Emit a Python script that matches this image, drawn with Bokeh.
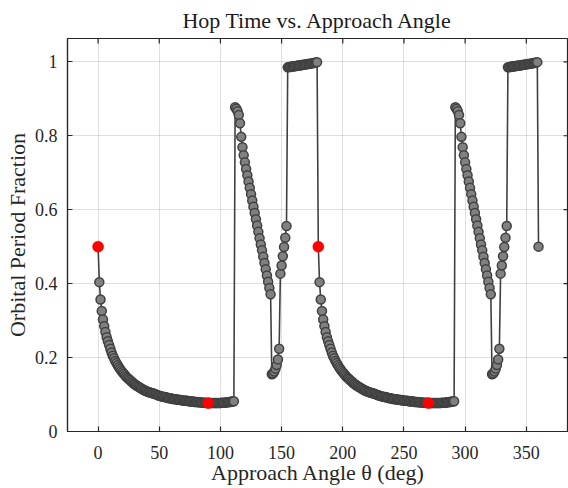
import math
from bokeh.plotting import figure
from bokeh.models import Range1d, FixedTicker, ColumnDataSource
from bokeh.embed import file_html
from bokeh.resources import INLINE

# ---------------- data ----------------
# approach angle grid, 1 degree steps
theta = list(range(0, 361))

# orbital period fraction, theta = 0 .. 179 deg
frac_0_179 = [
    0.500, 0.404, 0.357, 0.326, 0.303, 0.285, 0.269, 0.255, 0.244, 0.234,
    0.224, 0.214, 0.205, 0.198, 0.191, 0.185, 0.179, 0.174, 0.169, 0.164,
    0.160, 0.156, 0.152, 0.148, 0.145, 0.142, 0.139, 0.136, 0.133, 0.130,
    0.128, 0.125, 0.123, 0.121, 0.119, 0.117, 0.115, 0.113, 0.111, 0.110,
    0.108, 0.107, 0.106, 0.105, 0.104, 0.103, 0.102, 0.101, 0.099, 0.098,
    0.097, 0.096, 0.095, 0.094, 0.093, 0.093, 0.092, 0.091, 0.090, 0.090,
    0.089, 0.088, 0.088, 0.087, 0.087, 0.086, 0.086, 0.085, 0.085, 0.084,
    0.084, 0.083, 0.083, 0.083, 0.082, 0.082, 0.081, 0.081, 0.081, 0.080,
    0.080, 0.080, 0.079, 0.079, 0.079, 0.078, 0.078, 0.078, 0.078, 0.077,
    0.077, 0.077, 0.077, 0.077, 0.077, 0.077, 0.077, 0.077, 0.077, 0.077,
    0.077, 0.078, 0.078, 0.078, 0.078, 0.079, 0.079, 0.080, 0.080, 0.081,
    0.081, 0.082, 0.877, 0.873, 0.866, 0.856, 0.834, 0.797, 0.769, 0.747,
    0.728, 0.710, 0.693, 0.676, 0.659, 0.642, 0.625, 0.608, 0.591, 0.574,
    0.557, 0.540, 0.523, 0.506, 0.490, 0.473, 0.456, 0.439, 0.422, 0.405,
    0.388, 0.371, 0.155, 0.157, 0.162, 0.170, 0.180, 0.195, 0.224, 0.427,
    0.449, 0.474, 0.499, 0.524, 0.556, 0.985, 0.986, 0.986, 0.987, 0.987,
    0.988, 0.988, 0.989, 0.989, 0.990, 0.990, 0.991, 0.991, 0.992, 0.993,
    0.993, 0.994, 0.994, 0.995, 0.995, 0.996, 0.997, 0.997, 0.998, 0.999,
]

# orbital period fraction, theta = 180 .. 360 deg
frac_180_360 = [
    0.500, 0.404, 0.357, 0.326, 0.303, 0.285, 0.269, 0.255, 0.244, 0.234,
    0.224, 0.214, 0.205, 0.198, 0.191, 0.185, 0.179, 0.174, 0.169, 0.164,
    0.160, 0.156, 0.152, 0.148, 0.145, 0.142, 0.139, 0.136, 0.133, 0.130,
    0.128, 0.125, 0.123, 0.121, 0.119, 0.117, 0.115, 0.113, 0.111, 0.110,
    0.108, 0.107, 0.106, 0.105, 0.104, 0.103, 0.102, 0.101, 0.099, 0.098,
    0.097, 0.096, 0.095, 0.094, 0.093, 0.093, 0.092, 0.091, 0.090, 0.090,
    0.089, 0.088, 0.088, 0.087, 0.087, 0.086, 0.086, 0.085, 0.085, 0.084,
    0.084, 0.083, 0.083, 0.083, 0.082, 0.082, 0.081, 0.081, 0.081, 0.080,
    0.080, 0.080, 0.079, 0.079, 0.079, 0.078, 0.078, 0.078, 0.078, 0.077,
    0.077, 0.077, 0.077, 0.077, 0.077, 0.077, 0.077, 0.077, 0.077, 0.077,
    0.077, 0.078, 0.078, 0.078, 0.078, 0.079, 0.079, 0.080, 0.080, 0.081,
    0.081, 0.082, 0.877, 0.873, 0.866, 0.856, 0.834, 0.797, 0.769, 0.747,
    0.728, 0.710, 0.693, 0.676, 0.659, 0.642, 0.625, 0.608, 0.591, 0.574,
    0.557, 0.540, 0.523, 0.506, 0.490, 0.473, 0.456, 0.439, 0.422, 0.405,
    0.388, 0.371, 0.155, 0.157, 0.162, 0.170, 0.180, 0.195, 0.224, 0.427,
    0.449, 0.474, 0.499, 0.524, 0.556, 0.985, 0.986, 0.986, 0.987, 0.987,
    0.988, 0.988, 0.989, 0.989, 0.990, 0.990, 0.991, 0.991, 0.992, 0.993,
    0.993, 0.994, 0.994, 0.995, 0.995, 0.996, 0.997, 0.997, 0.998, 0.999,
    0.500,
]

# highlighted angles (red markers)
highlight_theta = [0, 90, 180, 270]

x_ticks = [0, 50, 100, 150, 200, 250, 300, 350]
y_ticks = [0, 0.2, 0.4, 0.6, 0.8, 1.0]
y_tick_labels = ["0", "0.2", "0.4", "0.6", "0.8", "1"]

title_text = "Hop Time vs. Approach Angle"
x_label = "Approach Angle \u03b8 (deg)"
y_label = "Orbital Period Fraction"

# ---------------- build ----------------
frac = frac_0_179 + frac_180_360
assert len(frac) == len(theta)
src = ColumnDataSource(dict(theta=theta, frac=frac))
hl = ColumnDataSource(dict(theta=highlight_theta,
                           frac=[frac[theta.index(t)] for t in highlight_theta]))

FONT = "Liberation Serif"
AX = "#262626"
LINE = "#404040"

x_rng = Range1d(-25, 384.5)
y_rng = Range1d(0, 1.063)

p = figure(width=568, height=488, x_range=x_rng, y_range=y_rng,
           output_backend="svg", toolbar_location=None,
           min_border_left=67, min_border_right=0,
           min_border_top=38, min_border_bottom=57,
           background_fill_color="white", border_fill_color="white")

p.title.text = title_text
p.title.align = "center"
p.title.text_font = FONT
p.title.text_font_size = "22px"
p.title.text_font_style = "normal"
p.title.text_color = "#1a1a1a"
p.title.standoff = 11

p.outline_line_color = AX
p.outline_line_width = 1.2

xa = p.xaxis[0]
xa.ticker = FixedTicker(ticks=x_ticks)
xa.axis_label = x_label
ya = p.yaxis[0]
ya.ticker = FixedTicker(ticks=y_ticks)
ya.axis_label = y_label
ya.major_label_overrides = {t: s for t, s in zip(y_ticks, y_tick_labels)}

for ax in (xa, ya):
    ax.axis_line_color = AX
    ax.axis_line_width = 1.2
    ax.major_tick_in = 5
    ax.major_tick_out = 0
    ax.major_tick_line_color = AX
    ax.major_tick_line_width = 1.2
    ax.minor_tick_in = 0
    ax.minor_tick_out = 0
    ax.major_label_text_font = FONT
    ax.major_label_text_font_size = "18px"
    ax.major_label_text_color = AX
    ax.axis_label_text_font = FONT
    ax.axis_label_text_font_size = "22px"
    ax.axis_label_text_font_style = "normal"
    ax.axis_label_text_color = AX

xa.major_label_standoff = 14
xa.axis_label_standoff = -2
ya.major_label_standoff = 10
ya.axis_label_standoff = 2

p.xgrid.ticker = FixedTicker(ticks=x_ticks)
p.ygrid.ticker = FixedTicker(ticks=y_ticks)
p.grid.grid_line_color = AX
p.grid.grid_line_alpha = 0.15
p.grid.grid_line_width = 1

# inward tick marks on the top and right edges of the box (half clipped by the frame)
p.scatter(x=x_ticks, y=[y_rng.end] * len(x_ticks), marker="dash", angle=math.pi / 2,
          size=10, line_color=AX, line_width=1.2)
p.scatter(x=[x_rng.end] * len(y_ticks), y=y_ticks, marker="dash",
          size=10, line_color=AX, line_width=1.2)

p.line("theta", "frac", source=src, line_color=LINE, line_width=1.6)
p.scatter("theta", "frac", source=src, marker="circle", size=9,
          fill_color="#808080", line_color=LINE, line_width=1.5)
p.scatter("theta", "frac", source=hl, marker="circle", size=11,
          fill_color="#ff0000", line_color="#ff0000", line_width=0.5)

open("out.html", "w").write(file_html(p, INLINE))
